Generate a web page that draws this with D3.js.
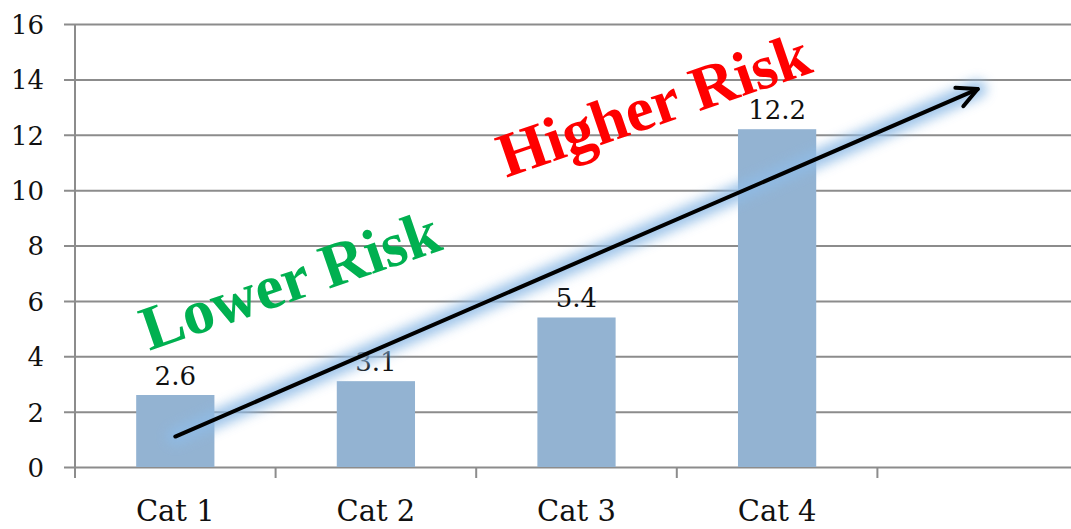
<!DOCTYPE html>
<html>
<head>
<meta charset="utf-8">
<script src="https://cdn.jsdelivr.net/npm/d3@7"></script>
<style>
    html, body { margin: 0; padding: 0; background: #fff; }
    svg { display: block; font-family: "DejaVu Serif", "Liberation Serif", serif; }
    .note { font-family: "Liberation Serif", "Times New Roman", serif; }
</style>
</head>
<body>
<svg id="chart" width="1071" height="529"></svg>
<script>
// chart data
var categories = ["Cat 1", "Cat 2", "Cat 3", "Cat 4", ""];
var values = [2.6, 3.1, 5.4, 12.2];
var yTicks = [0, 2, 4, 6, 8, 10, 12, 14, 16];

// risk arrow, in data units: [category index position, value]
var arrowFrom = [0.5, 1.1];
var arrowTo = [4.5, 13.65];

// the two rotated notes: [band position, value] for the start of the baseline
var notes = [
    { text: "Lower Risk", at: [0.37, 4.2], color: "#00b050" },
    { text: "Higher Risk", at: [2.15, 10.45], color: "#ff0000" }
];

var svg = d3.select("#chart"),
    plotLeft = 75,
    plotRight = 1078,
    plotTop = 24,
    plotBottom = 467,
    noteAngle = -19;

var x = d3.scaleBand().domain(categories).range([plotLeft, plotRight]);
var xPos = d3.scaleLinear().domain([0, categories.length]).range([plotLeft, plotRight]);
var y = d3.scaleLinear().domain([0, 16]).range([plotBottom, plotTop]);

// glow filter for the arrow
var defs = svg.append("defs");
defs.append("filter")
    .attr("id", "glow")
    .attr("x", "-20%").attr("y", "-40%")
    .attr("width", "140%").attr("height", "180%")
    .append("feGaussianBlur")
    .attr("stdDeviation", 6);

defs.append("marker")
    .attr("id", "head")
    .attr("markerUnits", "userSpaceOnUse")
    .attr("viewBox", "0 0 26 26")
    .attr("refX", 23)
    .attr("refY", 13)
    .attr("markerWidth", 26)
    .attr("markerHeight", 26)
    .attr("orient", "auto")
    .append("path")
    .attr("d", "M3,3 L23,13 L3,23")
    .attr("fill", "none")
    .attr("stroke", "#000")
    .attr("stroke-width", 4)
    .attr("stroke-linecap", "round")
    .attr("stroke-linejoin", "round");

// horizontal grid lines + y ticks
var yAxis = d3.axisLeft(y).tickValues(yTicks).tickSize(-(plotRight - plotLeft)).tickSizeOuter(0);
var gy = svg.append("g").attr("transform", "translate(" + plotLeft + ",0)").call(yAxis);
gy.attr("font-family", null).attr("font-size", null);
gy.select(".domain").remove();
gy.selectAll(".tick line")
    .attr("x1", -11)
    .attr("stroke", "#8c8c8c")
    .attr("stroke-width", 2);
gy.selectAll(".tick text")
    .attr("x", -31)
    .attr("dy", "0.36em")
    .attr("fill", "#111")
    .style("font-size", "26px");

// vertical axis line
svg.append("line")
    .attr("x1", plotLeft).attr("x2", plotLeft)
    .attr("y1", y(16)).attr("y2", plotBottom + 11)
    .attr("stroke", "#8c8c8c")
    .attr("stroke-width", 2);

// category ticks below the axis
svg.append("g").selectAll("line")
    .data(d3.range(1, categories.length + 1))
    .join("line")
    .attr("x1", function (i) { return xPos(i); })
    .attr("x2", function (i) { return xPos(i); })
    .attr("y1", plotBottom)
    .attr("y2", plotBottom + 11)
    .attr("stroke", "#8c8c8c")
    .attr("stroke-width", 2);

// category labels
svg.append("g").selectAll("text")
    .data(categories)
    .join("text")
    .attr("x", function (d) { return x(d) + x.bandwidth() / 2; })
    .attr("y", 521)
    .attr("text-anchor", "middle")
    .attr("fill", "#111")
    .style("font-size", "29px")
    .text(function (d) { return d; });

// bars
var barW = x.bandwidth() * 0.39;
svg.append("g").selectAll("rect")
    .data(values)
    .join("rect")
    .attr("x", function (d, i) { return x(categories[i]) + (x.bandwidth() - barW) / 2; })
    .attr("y", function (d) { return y(d); })
    .attr("width", barW)
    .attr("height", function (d) { return y(0) - y(d); })
    .attr("fill", "#93b3d2");

// value labels
svg.append("g").selectAll("text")
    .data(values)
    .join("text")
    .attr("x", function (d, i) { return x(categories[i]) + x.bandwidth() / 2; })
    .attr("y", function (d) { return y(d) - 10; })
    .attr("text-anchor", "middle")
    .attr("fill", "#111")
    .style("font-size", "26px")
    .text(function (d) { return d.toFixed(1); });

// arrow with blue glow
var ax1 = xPos(arrowFrom[0]), ay1 = y(arrowFrom[1]),
    ax2 = xPos(arrowTo[0]), ay2 = y(arrowTo[1]);

svg.append("line")
    .attr("x1", ax1).attr("y1", ay1)
    .attr("x2", ax2).attr("y2", ay2)
    .attr("stroke", "#8fbbe6")
    .attr("stroke-width", 18)
    .attr("stroke-linecap", "round")
    .attr("opacity", 0.85)
    .attr("filter", "url(#glow)");

svg.append("line")
    .attr("x1", ax1).attr("y1", ay1)
    .attr("x2", ax2).attr("y2", ay2)
    .attr("stroke", "#000")
    .attr("stroke-width", 4)
    .attr("stroke-linecap", "round")
    .attr("marker-end", "url(#head)");

// rotated notes
svg.append("g").selectAll("text")
    .data(notes)
    .join("text")
    .attr("class", "note")
    .attr("transform", function (d) {
        return "translate(" + xPos(d.at[0]) + "," + y(d.at[1]) + ") rotate(" + noteAngle + ")";
    })
    .attr("fill", function (d) { return d.color; })
    .style("font-size", "63px")
    .style("font-weight", "bold")
    .text(function (d) { return d.text; });
</script>
</body>
</html>
